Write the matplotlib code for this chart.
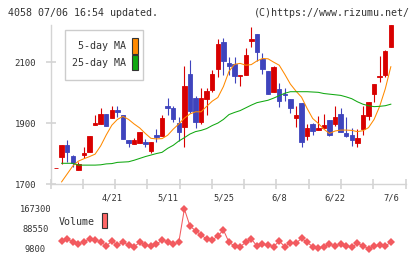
import numpy as np
import matplotlib.pyplot as plt
from matplotlib.patches import Rectangle

plt.rcParams['font.family'] = ['DejaVu Sans Mono']

# daily candles, 4/7 .. 7/6
opens = [1752, 1790, 1828, 1792, 1747, 1795, 1804, 1894, 1897, 1930,
         1917, 1943, 1926, 1844, 1830, 1833, 1839, 1809, 1861, 1857,
         1956, 1949, 1899, 1888, 2061, 1981, 1904, 1979, 2008, 2077,
         2165, 2096, 2093, 2055, 2057, 2170, 2194, 2110, 2070, 2001,
         2011, 1997, 1979, 1917, 1965, 1858, 1896, 1877, 1885, 1910,
         1897, 1930, 1869, 1860, 1835, 1881, 1924, 1995, 2051, 2057, 2150]
closes = [1752, 1828, 1806, 1768, 1766, 1803, 1857, 1901, 1930, 1891,
          1943, 1935, 1849, 1835, 1844, 1871, 1831, 1837, 1853, 1916,
          1950, 1913, 1871, 2021, 1940, 1904, 1981, 2005, 2061, 2159,
          2104, 2088, 2055, 2058, 2123, 2175, 2134, 2078, 1997, 2084,
          1973, 1993, 1950, 1926, 1837, 1883, 1875, 1885, 1893, 1861,
          1919, 1871, 1858, 1846, 1852, 1926, 1969, 2028, 2054, 2136, 2221]
highs = [1752, 1828, 1844, 1795, 1773, 1822, 1857, 1926, 1950, 1930,
         1956, 1956, 1926, 1844, 1850, 1871, 1848, 1837, 1880, 1926,
         1982, 1956, 1921, 2087, 2107, 1989, 2014, 2014, 2074, 2175,
         2178, 2118, 2116, 2058, 2148, 2214, 2194, 2131, 2070, 2088,
         2032, 2014, 1979, 1956, 1965, 1897, 1901, 1923, 1930, 1910,
         1956, 1948, 1921, 1883, 1880, 1956, 1969, 2028, 2120, 2139, 2221]
lows = [1752, 1766, 1773, 1757, 1747, 1784, 1804, 1894, 1897, 1891,
        1917, 1921, 1849, 1820, 1830, 1833, 1822, 1803, 1837, 1857,
        1926, 1904, 1842, 1822, 1933, 1885, 1897, 1926, 2003, 2050,
        2057, 2057, 2032, 2022, 2057, 2150, 2104, 2060, 1997, 2001,
        1954, 1973, 1934, 1888, 1822, 1844, 1861, 1877, 1885, 1857,
        1890, 1871, 1855, 1825, 1822, 1861, 1910, 1970, 2035, 2052, 2150]

# moving averages as drawn (no value for the first day)
ma5 = [None, 1707, 1733, 1759, 1775, 1783, 1790, 1798, 1825, 1861,
       1893, 1912, 1922, 1912, 1897, 1884, 1866, 1850, 1848, 1849,
       1860, 1880, 1897, 1916, 1930, 1937, 1937, 1955, 1972, 1984,
       2020, 2070, 2093, 2096, 2090, 2092, 2104, 2112, 2111, 2100,
       2090, 2060, 2028, 2005, 1985, 1948, 1915, 1899, 1880, 1866,
       1874, 1877, 1877, 1876, 1872, 1875, 1885, 1912, 1955, 2012, 2085]
ma25 = [None, 1768, 1768, 1768, 1762, 1762, 1762, 1762, 1763, 1766,
        1767, 1771, 1772, 1773, 1778, 1784, 1790, 1795, 1800, 1804,
        1817, 1827, 1841, 1852, 1864, 1872, 1876, 1882, 1892, 1900,
        1912, 1928, 1935, 1941, 1950, 1959, 1967, 1971, 1975, 1982,
        1990, 1998, 2003, 2003, 2003, 2003, 2002, 2001, 1997, 1995,
        1993, 1991, 1986, 1980, 1970, 1962, 1957, 1954, 1955, 1957, 1962]

volume = [None, 40300, 47100, 37600, 28400, 37600, 48300, 44300, 37600, 20500,
          40300, 24500, 35200, 24500, 17700, 35200, 24500, 20500, 27300, 44300,
          37600, 28400, 35200, 167300, 99900, 81200, 64100, 48300, 44300, 60200,
          84000, 35200, 20500, 17700, 35200, 48300, 20500, 27300, 24500, 17700,
          40300, 17700, 34000, 31200, 51000, 35200, 17700, 13800, 17700, 27300,
          21700, 27300, 21700, 15400, 31200, 21700, 9800, 20500, 24500, 20500, 35200]

date_pos = [10, 20, 30, 40, 50, 60]
date_labels = ['4/21', '5/11', '5/25', '6/8', '6/22', '7/6']
price_ticks = [1700, 1900, 2100]
vol_ticks = [9800, 88550, 167300]

W, H = 420, 259
def fx(px):
    return px / W
def fy(py):
    return 1 - py / H

red = '#d80000'
blue = '#3f44bd'
orange = '#ff8a00'
green = '#10a810'
grey = '#d4d4d4'
txt = '#333333'

fig = plt.figure(figsize=(4.2, 2.59), dpi=100)

# --- price panel
ax = fig.add_axes([fx(50.5), fy(184), fx(405.5) - fx(50.5), fy(25) - fy(184)])
x = np.arange(len(closes))
o = np.array(opens, float)
c = np.array(closes, float)
cols = [red if cc >= oo else blue for oo, cc in zip(o, c)]
ax.vlines(x, lows, highs, colors=cols, linewidth=0.8, zorder=2)
ax.bar(x, np.abs(c - o), bottom=np.minimum(o, c), width=0.8,
       color=cols, edgecolor=cols, linewidth=0.6, zorder=3)
m5 = np.array([np.nan if v is None else v for v in ma5], float)
m25 = np.array([np.nan if v is None else v for v in ma25], float)
ax.plot(x, m5, color=orange, linewidth=0.75, zorder=4)
ax.plot(x, m25, color=green, linewidth=0.75, zorder=4)

ax.set_xlim(-0.99, 62.63)
ax.set_ylim(1700, 2222)
for s in ['top', 'right']:
    ax.spines[s].set_visible(False)
for s in ['left', 'bottom']:
    ax.spines[s].set_color(grey)
    ax.spines[s].set_linewidth(1.0)
ax.set_xticks(np.linspace(-0.99, 62.63, 12))
ax.set_xticklabels([])
ax.set_xticks(date_pos, labels=date_labels, minor=True)
ax.tick_params(axis='x', which='major', direction='inout', length=7,
               width=1.2, color=grey)
ax.tick_params(axis='x', which='minor', length=0, pad=6.5, labelsize=6.3,
               labelcolor=txt)
ax.set_yticks(price_ticks, labels=[str(t) for t in price_ticks])
ax.tick_params(axis='y', direction='inout', length=7, width=1.2, color=grey,
               pad=7, labelsize=6.5, labelcolor=txt)

# legend box
fig.add_artist(Rectangle((fx(65), fy(80)), fx(143) - fx(65), fy(30) - fy(80),
                         transform=fig.transFigure, facecolor='white',
                         edgecolor='#cccccc', linewidth=1.0, zorder=5))
fig.text(fx(126), fy(46), '5-day MA', ha='right', va='center', fontsize=7.2,
         color=txt, zorder=6)
fig.text(fx(126), fy(63), '25-day MA', ha='right', va='center', fontsize=7.2,
         color=txt, zorder=6)
fig.add_artist(Rectangle((fx(131.5), fy(53.5)), fx(6), 16 / H,
                         transform=fig.transFigure, facecolor=orange,
                         edgecolor='#333333', linewidth=0.8, zorder=6))
fig.add_artist(Rectangle((fx(131.5), fy(70)), fx(6), 15 / H,
                         transform=fig.transFigure, facecolor=green,
                         edgecolor='#333333', linewidth=0.8, zorder=6))

# --- volume panel
vax = fig.add_axes([fx(50.5), fy(248.7), fx(405.5) - fx(50.5), fy(209) - fy(248.7)])
vol = np.array([np.nan if v is None else v for v in volume], float)
vax.plot(x, vol, color='#f25a5f', linewidth=0.75, marker='D', markersize=4.4,
         markeredgewidth=0, clip_on=False)
vax.set_xlim(-0.99, 62.63)
vax.set_ylim(9800, 167300)
for s in vax.spines.values():
    s.set_visible(False)
vax.set_xticks([])
vax.set_yticks(vol_ticks, labels=[str(t) for t in vol_ticks])
for lab in vax.get_yticklabels():
    lab.set_horizontalalignment('center')
vax.tick_params(axis='y', length=0, pad=11, labelsize=6.3, labelcolor=txt)
fig.text(fx(59), fy(222), 'Volume', ha='left', va='center', fontsize=7.2,
         color=txt)
fig.add_artist(Rectangle((fx(101.5), fy(228)), fx(6), 15 / H,
                         transform=fig.transFigure, facecolor='#ff6666',
                         edgecolor='#333333', linewidth=0.8))

# header
fig.text(fx(8), fy(12.5), '4058 07/06 16:54 updated.', ha='left', va='center',
         fontsize=7.2, color=txt)
fig.text(fx(410), fy(12.5), '(C)https://www.rizumu.net/', ha='right',
         va='center', fontsize=7.2, color=txt)

fig.savefig('out.png', dpi=100)
